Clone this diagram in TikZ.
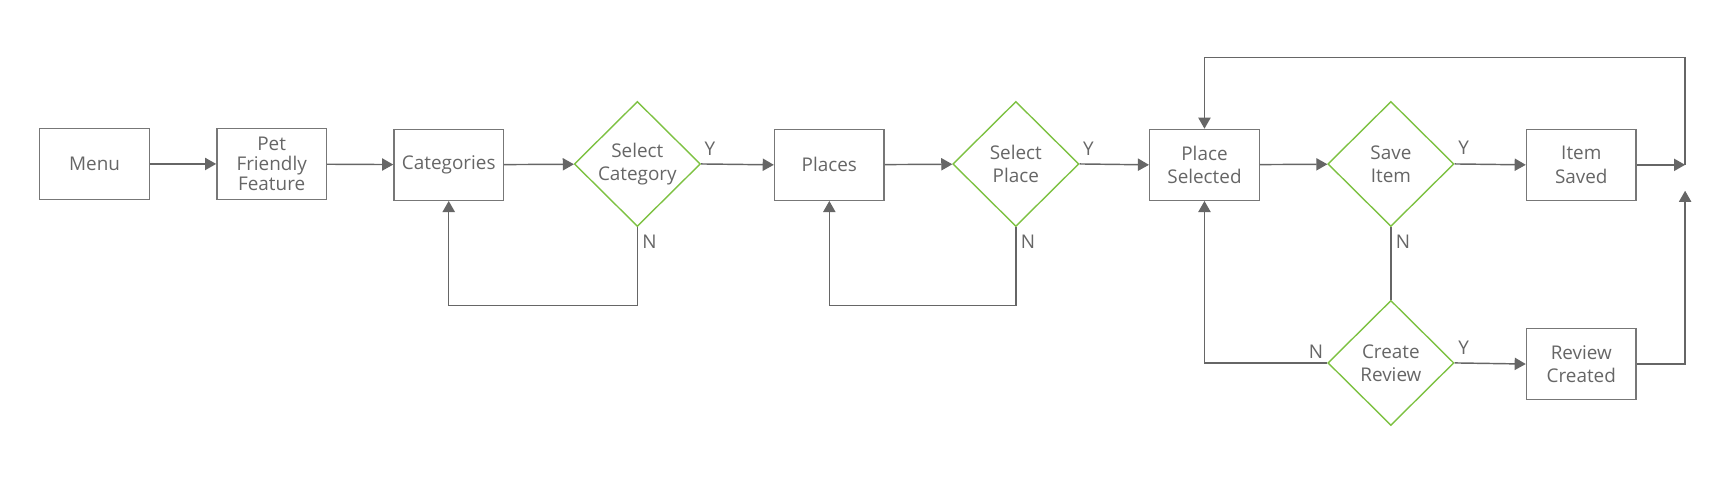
\documentclass[tikz,border=0pt]{standalone}
\usepackage{fontspec}
\setmainfont{Open Sans}
\usetikzlibrary{shapes.geometric,arrows.meta}
\definecolor{linegray}{HTML}{666666}
\definecolor{boxgray}{HTML}{777777}
\definecolor{decgreen}{HTML}{7DC142}
\tikzset{
  stepbox/.style={draw=boxgray,line width=1.25pt,minimum width=98.6pt,minimum height=63.7pt,
    inner sep=2pt,align=center,text=linegray,font=\fontsize{17}{21}\selectfont},
  decide/.style={diamond,aspect=1,draw=decgreen,line width=1.25pt,minimum width=113.5pt,
    minimum height=112.5pt,inner sep=0pt,align=center,text=linegray,font=\fontsize{17}{21}\selectfont},
  link/.style={draw=linegray,line width=1.3pt},
  flow/.style={link,-{Triangle[length=10pt,width=11pt]}},
  yn/.style={text=linegray,font=\fontsize{17}{19}\selectfont,inner sep=0pt}
}
\begin{document}
\begin{tikzpicture}[x=1pt,y=-1pt]
    \useasboundingbox (0,0) rectangle (1560,429);
    %boxes and decisions
    \node[stepbox] (menu) at (85.1,147.5) {Menu};
    \node[stepbox,font=\fontsize{17}{18}\selectfont] (pet) at (244.4,147.5) {Pet\\Friendly\\Feature};
    \node[stepbox] (cat) at (403.7,148.3) {Categories};
    \node[decide] (selcat) at (573.4,147.5) {Select\\Category};
    \node[stepbox] (places) at (746.1,148.3) {Places};
    \node[decide] (selplace) at (913.9,147.5) {Select\\Place};
    \node[stepbox] (placesel) at (1083.6,148.3) {Place\\Selected};
    \node[decide] (save) at (1251.3,147.5) {Save\\Item};
    \node[stepbox] (saved) at (1422.6,148.3) {Item\\Saved};
    \node[decide] (review) at (1251.3,326.5) {Create\\Review};
    \node[stepbox] (created) at (1422.6,327.5) {Review\\Created};
    \coordinate (rail) at (1516,51.8);
    \coordinate (railup) at (1516,171.6);
    %main line
    \draw[flow] (menu) -- (pet);
    \draw[flow] (pet) -- (cat);
    \draw[flow] (cat) -- (selcat);
    \draw[flow] (selcat.east) -- node[at start,yn,xshift=8pt,yshift=14pt] {Y} (places.west);
    \draw[flow] (places) -- (selplace);
    \draw[flow] (selplace.east) -- node[at start,yn,xshift=8pt,yshift=14pt] {Y} (placesel.west);
    \draw[flow] (placesel) -- (save);
    \draw[flow] (save.east) -- node[at start,yn,xshift=8pt,yshift=15pt] {Y} (saved.west);
    \draw[flow] (review.east) -- node[at start,yn,xshift=8pt,yshift=14pt] {Y} (created.west);
    %loops back
    \draw[flow] (selcat.south) -- node[at start,yn,xshift=11pt,yshift=-13pt] {N} ++(0,70.7) -| (cat.south);
    \draw[flow] (selplace.south) -- node[at start,yn,xshift=11pt,yshift=-13pt] {N} ++(0,70.7) -| (places.south);
    \draw[link] (save.south) -- node[at start,yn,xshift=11pt,yshift=-13pt] {N} (review.north);
    \draw[flow] (review.west) -- node[at start,yn,xshift=-10pt,yshift=10pt] {N} (review.west -| placesel) -- (placesel.south);
    %right rail
    \draw[flow] (saved.east) -- (saved.east -| rail);
    \draw[flow] (saved.east -| rail) -- (rail) -- (rail -| placesel) -- (placesel.north);
    \draw[flow] (created.east) -- (created.east -| rail) -- (railup);
\end{tikzpicture}
\end{document}
